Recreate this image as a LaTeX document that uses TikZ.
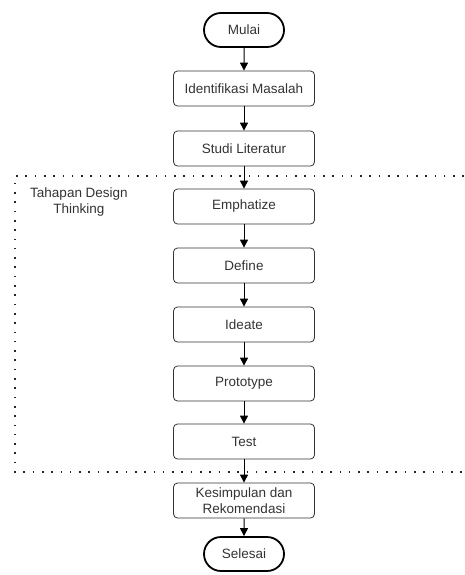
\documentclass[tikz,border=0pt]{standalone}
\usepackage{fontspec}
\setmainfont{Liberation Sans}
\usetikzlibrary{arrows.meta,shapes.misc}

\begin{document}
\begin{tikzpicture}[x=1pt, y=-1pt, >={Triangle[length=8pt,width=8pt]},
  langkah/.style={draw=black!80, line width=0.8pt, rounded corners=4pt, minimum width=141pt, minimum height=35pt, inner sep=1pt, align=center, font=\fontsize{13.5}{16.5}\selectfont, text=black!80},
  terminal/.style={draw=black, line width=1.8pt, rounded rectangle, minimum width=82pt, minimum height=34pt, inner sep=1pt, font=\fontsize{13.5}{16.5}\selectfont, text=black!80},
  panah/.style={->, draw=black, line width=1pt}]
 \useasboundingbox (0,0) rectangle (464,575);

 % frame of the design thinking stages
 \draw[black!85, line width=1.6pt, dash pattern=on 1.6pt off 7.7pt] (464,176) -- (15,176) -- (15,472) -- (464,472);
 \node[align=center, font=\fontsize{13.5}{16.5}\selectfont, text=black!80] (tahapan) at (79,202) {Tahapan Design\\Thinking};

 \node[terminal] (mulai) at (244,30) {Mulai};
 \node[langkah] (identifikasi) at (244,88.5) {Identifikasi Masalah};
 \node[langkah] (literatur) at (244,148.5) {Studi Literatur};

 \node[langkah] (emphatize) at (244,206.5) {Emphatize};
 \node[langkah] (define) at (244,265.5) {Define};
 \node[langkah] (ideate) at (244,324.5) {Ideate};
 \node[langkah] (prototype) at (244,383.5) {Prototype};
 \node[langkah] (test) at (244,441.5) {Test};

 \node[langkah] (kesimpulan) at (244,500.5) {Kesimpulan dan\\Rekomendasi};
 \node[terminal] (selesai) at (244,554) {Selesai};

 \draw[panah] (mulai) -- (identifikasi);
 \draw[panah] (identifikasi) -- (literatur);
 \draw[panah] (literatur) -- (emphatize);
 \draw[panah] (emphatize) -- (define);
 \draw[panah] (define) -- (ideate);
 \draw[panah] (ideate) -- (prototype);
 \draw[panah] (prototype) -- (test);
 \draw[panah] (test) -- (kesimpulan);
 \draw[panah] (kesimpulan) -- (selesai);
\end{tikzpicture}
\end{document}
